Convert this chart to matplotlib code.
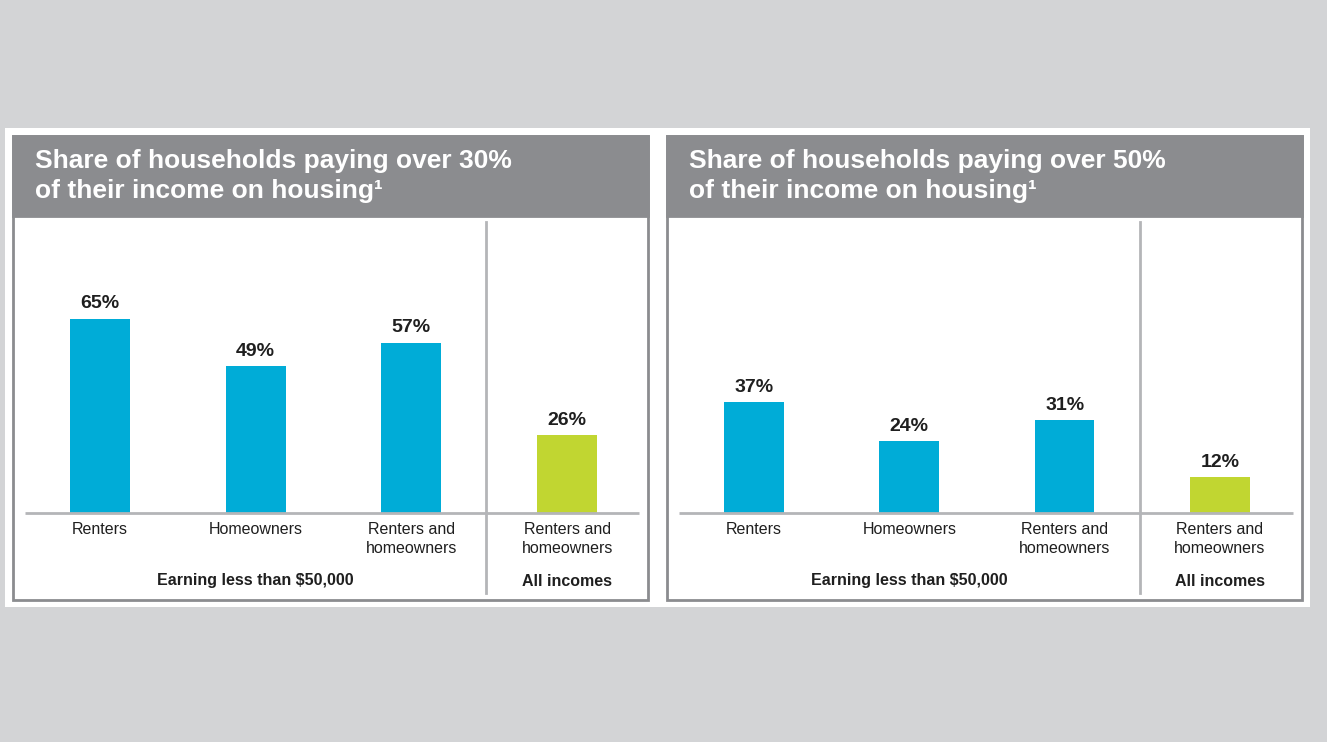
import matplotlib
matplotlib.use("Agg")
import matplotlib.pyplot as plt
from matplotlib.patches import Rectangle

# ---- data ----
categories = ["Renters", "Homeowners", "Renters and\nhomeowners", "Renters and\nhomeowners"]
group_labels = ["Earning less than $50,000", "All incomes"]
share_over_30 = [65, 49, 57, 26]
share_over_50 = [37, 24, 31, 12]
titles = ["Share of households paying over 30%\nof their income on housing\u00b9",
          "Share of households paying over 50%\nof their income on housing\u00b9"]

BLUE = "#00acd7"
GREEN = "#c1d631"
BAND = "#8b8c8f"
PAGE = "#d3d4d6"
LINE = "#b4b5b8"
TEXT = "#1f1f1f"

plt.rcParams["font.family"] = ["Liberation Sans", "DejaVu Sans"]

W, H = 1327, 742
fig = plt.figure(figsize=(W / 100, H / 100), dpi=100)
fig.patch.set_facecolor(PAGE)

# full-figure pixel canvas for the panel chrome
bg = fig.add_axes([0, 0, 1, 1])
bg.set_xlim(0, W)
bg.set_ylim(H, 0)
bg.axis("off")
bg.add_patch(Rectangle((5, 128), 1305, 479, facecolor="white", edgecolor="none"))


def px_axes(x0, y0, x1, y1):
    return fig.add_axes([x0 / W, 1 - y1 / H, (x1 - x0) / W, (y1 - y0) / H])


panels = [
    dict(left=13, right=648, first=100, step=155.7, sep=486, vals=share_over_30, title=titles[0]),
    dict(left=667, right=1302, first=754, step=155.3, sep=1140, vals=share_over_50, title=titles[1]),
]

top, band_bottom, bottom = 136, 216, 600
baseline = 513
px_per_pct = 2.99

for p in panels:
    # frame and title band
    bg.add_patch(Rectangle((p["left"], top), p["right"] - p["left"], bottom - top,
                           facecolor="white", edgecolor=BAND, linewidth=2))
    bg.add_patch(Rectangle((p["left"], top), p["right"] - p["left"], band_bottom - top,
                           facecolor=BAND, edgecolor=BAND, linewidth=2))
    bg.text(p["left"] + 22, 176, p["title"], color="white", fontsize=19,
            fontweight="bold", ha="left", va="center", linespacing=1.3)

    # plot area in data units: x = category index, y = percent
    x0, x1 = p["left"] + 3, p["right"] - 3
    y0, y1 = band_bottom + 4, bottom - 3
    ax = px_axes(x0, y0, x1, y1)
    ax.set_xlim((x0 - p["first"]) / p["step"], (x1 - p["first"]) / p["step"])
    ax.set_ylim(-(y1 - baseline) / px_per_pct, (baseline - y0) / px_per_pct)
    ax.axis("off")

    xs = list(range(len(categories)))
    colors = [BLUE, BLUE, BLUE, GREEN]
    ax.bar(xs, p["vals"], width=0.385, color=colors, zorder=2)
    for x, v in zip(xs, p["vals"]):
        ax.text(x, v + 2.2, f"{v}%", ha="center", va="bottom", fontsize=14,
                fontweight="bold", color=TEXT)
        ax.text(x, -3.0, categories[x], ha="center", va="top", fontsize=11.5,
                color=TEXT, linespacing=1.35)

    # baseline and group separator
    xl = ax.get_xlim()
    base_l = (p["left"] + 12 - p["first"]) / p["step"]
    ax.plot([base_l, xl[1] - 0.04], [0, 0], color=LINE, lw=2, zorder=3,
            solid_capstyle="butt")
    sep_x = (p["sep"] - p["first"]) / p["step"]
    ax.plot([sep_x, sep_x], [-(593 - baseline) / px_per_pct, (baseline - 222) / px_per_pct],
            color=LINE, lw=2, zorder=1)

    ax.text(1, -(581 - baseline) / px_per_pct, group_labels[0], ha="center", va="center",
            fontsize=11.5, fontweight="bold", color=TEXT)
    ax.text(3, -(581 - baseline) / px_per_pct, group_labels[1], ha="center", va="center",
            fontsize=11.5, fontweight="bold", color=TEXT)

fig.savefig("out.png", dpi=100, facecolor=PAGE)
